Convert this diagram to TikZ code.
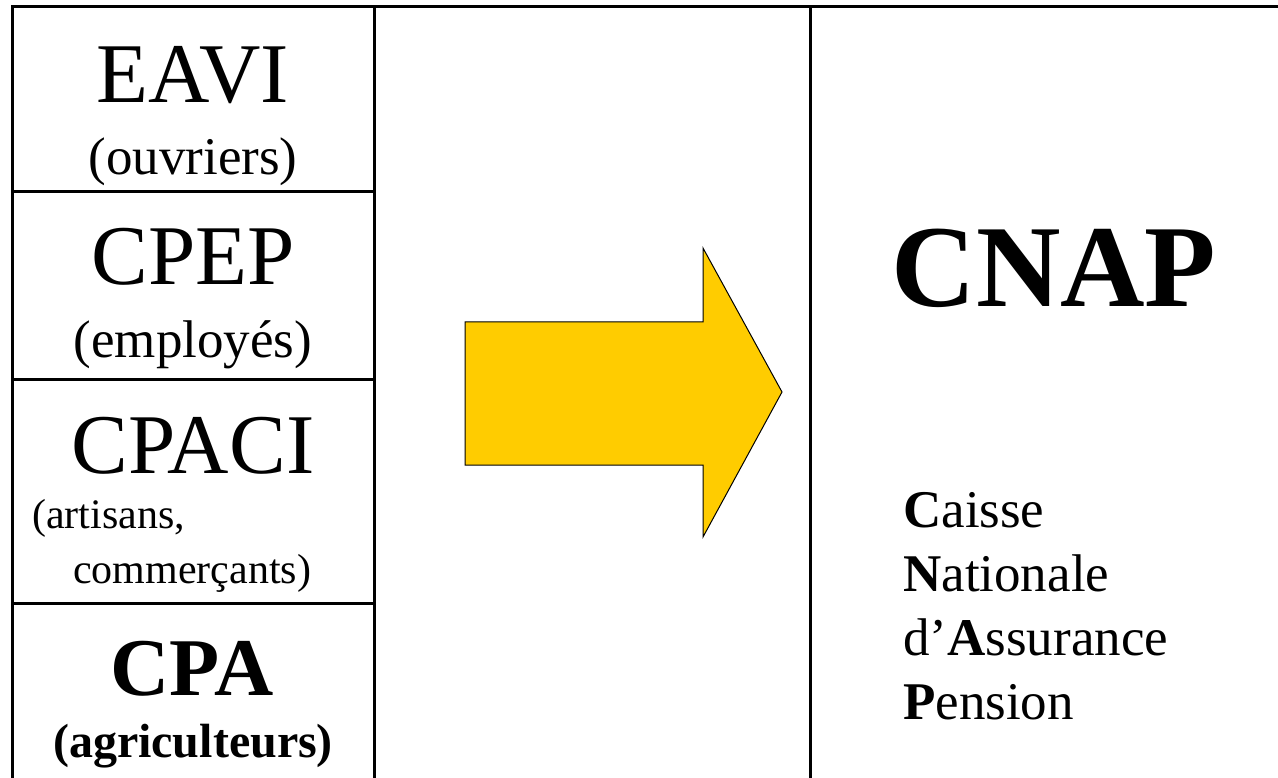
\documentclass[tikz,border=0pt]{standalone}
\usepackage{fontspec}
\setmainfont{Liberation Serif}
\usetikzlibrary{positioning}
\definecolor{arrowyellow}{HTML}{FFCC00}

\begin{document}
\begin{tikzpicture}[x=1pt, y=-1pt,
    grid/.style={line width=3pt},
    big/.style={anchor=base, inner sep=0pt, font=\fontsize{85}{92}\selectfont},
    small/.style={anchor=base, inner sep=0pt, font=\fontsize{53}{60}\selectfont},
    tiny/.style={anchor=base west, inner sep=0pt, font=\fontsize{42}{48}\selectfont},
    expl/.style={anchor=base west, inner sep=0pt, font=\fontsize{53}{64}\selectfont}
]
    \useasboundingbox (0,0) rectangle (1278,778);
    \clip (0,0) rectangle (1278,778);

    % tableau
    \draw[grid] (12,790) -- (12,7) -- (1300,7);
    \draw[grid] (374,7) -- (374,790);
    \draw[grid] (810,7) -- (810,790);
    \foreach \y in {192,379,603}
        \draw[grid] (12,\y) -- (374,\y);

    % anciennes caisses
    \node[big] (eavi) at (193,103) {EAVI};
    \node[small] (ouvr) at (193,175) {(ouvriers)};
    \node[big] (cpep) at (193,285) {CPEP};
    \node[small] (empl) at (193,357) {(employés)};
    \node[big] (cpaci) at (193,473) {CPACI};
    \node[tiny] (arti) at (32,528) {(artisans,};
    \node[tiny] (comm) at (73,583) {commerçants)};
    \node[big, font=\fontsize{82}{90}\selectfont\bfseries] (cpa) at (192,695) {CPA};
    \node[small, font=\fontsize{48}{54}\selectfont\bfseries] (agri) at (193,757) {(agriculteurs)};

    % fleche
    \draw[fill=arrowyellow, line width=1pt, line join=miter]
        (465,322) -- (703,322) -- (703,248) -- (782,392)
        -- (703,537) -- (703,465) -- (465,465) -- cycle;

    % nouvelle caisse
    \node[big, font=\fontsize{117}{130}\selectfont\bfseries] (cnap) at (1054,306) {CNAP};
    \node[expl] (cai) at (903,527) {\textbf{C}aisse};
    \node[expl] (nat) at (903,591) {\textbf{N}ationale};
    \node[expl] (ass) at (903,655) {d’\textbf{A}ssurance};
    \node[expl] (pen) at (903,719) {\textbf{P}ension};
\end{tikzpicture}
\end{document}
